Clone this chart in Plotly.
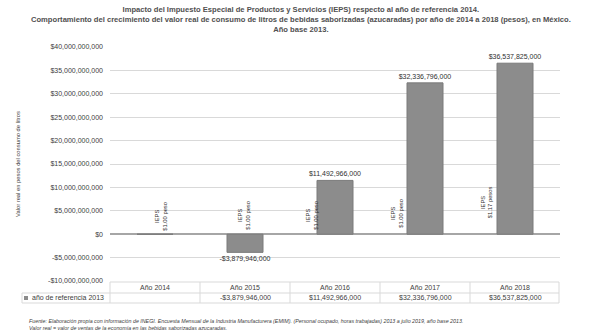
import plotly.graph_objects as go

# Chart data
years = ["Año 2014", "Año 2015", "Año 2016", "Año 2017", "Año 2018"]
real_value = [0, -3879946000, 11492966000, 32336796000, 36537825000]
ieps_quota = ["$1.00 peso", "$1.00 peso", "$1.00 peso", "$1.00 peso", "$1.17 pesos"]
series_name = "año de referencia 2013"
y_ticks = [-10e9, -5e9, 0, 5e9, 10e9, 15e9, 20e9, 25e9, 30e9, 35e9, 40e9]


def money(v):
    s = "${:,.0f}".format(abs(v))
    return "-" + s if v < 0 else s


W, H = 602, 332
L, R, T, B = 110, 42, 47, 51
PW = W - L - R

FONT = "Liberation Sans"
TXT = "#404040"
BAR = "#8c8c8c"


def px_x(px):
    return (px - L) / PW


def px_y(py):
    return 1 - (py - T) / (H - T - B)


fig = go.Figure()
fig.add_trace(go.Bar(
    x=years, y=real_value, width=0.4,
    marker=dict(color=BAR, line=dict(color="#7a7a7a", width=1)),
    text=[money(v) if v != 0 else "" for v in real_value],
    textposition="outside", cliponaxis=False, constraintext="none",
    textfont=dict(family=FONT, size=7, color="#303030"),
    name=series_name, showlegend=False,
))

ann = []
# Title
ann.append(dict(
    text="<b>Impacto del Impuesto Especial de Productos y Servicios (IEPS) respecto al año de referencia 2014.</b><br>"
         "<b>Comportamiento del crecimiento del valor real de consumo de litros de bebidas saborizadas (azucaradas) por año de 2014 a 2018 (pesos), en México.</b><br>"
         "<b>Año base 2013.</b>",
    xref="paper", yref="paper", x=px_x(301), y=1, yshift=T - 3,
    xanchor="center", yanchor="top", showarrow=False,
    font=dict(family=FONT, size=7.6, color="#505050")))

# Y axis title
ann.append(dict(
    text="Valor real en pesos del consumo de litros",
    xref="paper", yref="paper", x=px_x(18), y=0.5,
    xanchor="center", yanchor="middle", textangle=-90, showarrow=False,
    font=dict(family=FONT, size=5.8, color=TXT)))

# Rotated IEPS labels
ieps_dx = [6, -1, -23, -28, -28]
ieps_dy = [1, 2, 2, 4, 14]
for yr, q, dx, dy in zip(years, ieps_quota, ieps_dx, ieps_dy):
    ann.append(dict(
        text="IEPS<br>" + q, x=yr, y=0, xshift=dx, yshift=dy,
        xanchor="center", yanchor="bottom", textangle=-90, showarrow=False,
        font=dict(family=FONT, size=5.8, color="#303030")))

# Data table rows below the axis
for yr, v in zip(years, real_value):
    ann.append(dict(
        text=yr, x=yr, xref="x", yref="paper", y=0, yshift=-6,
        xanchor="center", yanchor="middle", showarrow=False,
        font=dict(family=FONT, size=7, color=TXT)))
    ann.append(dict(
        text=money(v) if v != 0 else "", x=yr, xref="x", yref="paper", y=0, yshift=-16,
        xanchor="center", yanchor="middle", showarrow=False,
        font=dict(family=FONT, size=7, color=TXT)))
ann.append(dict(
    text=series_name, xref="paper", yref="paper", x=px_x(30), y=0, yshift=-16,
    xanchor="left", yanchor="middle", showarrow=False,
    font=dict(family=FONT, size=7, color=TXT)))

# Footnote
ann.append(dict(
    text="<i>Fuente: Elaboración propia con información de INEGI. Encuesta Mensual de la Industria Manufacturera (EMIM). (Personal ocupado, horas trabajadas) 2013 a julio 2019, año base 2013.</i><br>"
         "<i>Valor real = valor de ventas de la economía en las bebidas saborizadas azucaradas.</i>",
    xref="paper", yref="paper", x=px_x(27), y=0, yshift=-(316 - (H - B)),
    xanchor="left", yanchor="top", align="left", showarrow=False,
    font=dict(family=FONT, size=5.3, color=TXT)))

# Table grid lines and legend key
shapes = []
line_style = dict(color="#d9d9d9", width=1)
for yy in (293, 303):
    shapes.append(dict(type="line", xref="paper", yref="paper",
                       x0=px_x(22), x1=px_x(559), y0=px_y(yy), y1=px_y(yy), line=line_style))
shapes.append(dict(type="line", xref="paper", yref="paper",
                   x0=px_x(110), x1=px_x(559), y0=px_y(282), y1=px_y(282), line=line_style))
for xx in (22, 110, 200, 290, 380, 470, 559):
    y_top = 293 if xx == 22 else 282
    shapes.append(dict(type="line", xref="paper", yref="paper",
                       x0=px_x(xx), x1=px_x(xx), y0=px_y(y_top), y1=px_y(303), line=line_style))
shapes.append(dict(type="rect", xref="paper", yref="paper",
                   x0=px_x(24), x1=px_x(28), y0=px_y(296), y1=px_y(300),
                   fillcolor=BAR, line=dict(width=0)))

fig.update_layout(
    width=W, height=H,
    margin=dict(l=L, r=R, t=T, b=B),
    paper_bgcolor="white", plot_bgcolor="white",
    bargap=0.6,
    annotations=ann, shapes=shapes,
    font=dict(family=FONT, color=TXT),
    xaxis=dict(showticklabels=False, showgrid=False, zeroline=False, showline=False,
               ticks="", fixedrange=True),
    yaxis=dict(range=[-10e9, 40e9], tickvals=y_ticks,
               ticktext=[money(v) for v in y_ticks],
               tickfont=dict(family=FONT, size=7, color=TXT),
               showgrid=True, gridcolor="#d9d9d9", gridwidth=1,
               zeroline=True, zerolinecolor="#a6a6a6", zerolinewidth=2,
               showline=False, ticks="", ticklabelstandoff=6, fixedrange=True),
)

fig.write_html("out.html")
